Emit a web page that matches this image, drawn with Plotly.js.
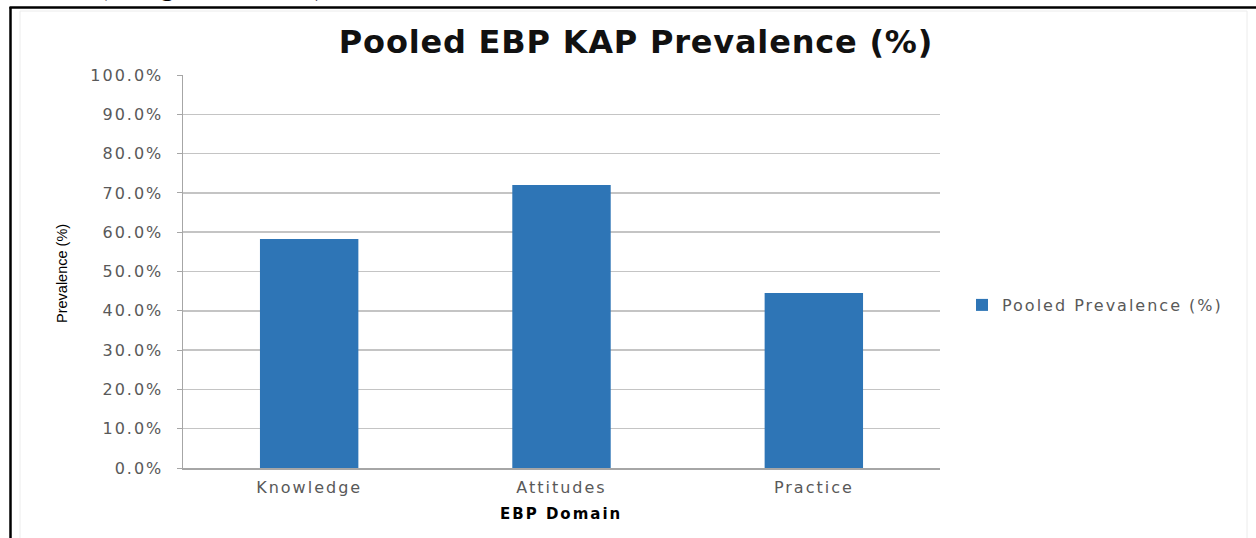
<!DOCTYPE html>
<html>
<head>
<meta charset="utf-8">
<script src="https://cdn.plot.ly/plotly-3.0.1.min.js"></script>
<style>
  html, body { margin: 0; padding: 0; background: #ffffff; }
  #chart { width: 1256px; height: 538px; }
  /* wide, airy lettering for ticks, legend and axis title
     (legend rule is unscoped so Plotly's text measuring sees it too) */
  .legendtext { letter-spacing: 2px; }
  #chart .xtick text, #chart .ytick text { letter-spacing: 2px; }
  #chart .annotation[data-index="1"] text { letter-spacing: 2px; }
  #chart .gtitle { letter-spacing: 0.8px; }
</style>
</head>
<body>
<div id="chart"></div>
<script>
// EBP domains and their pooled prevalence (fractions, shown as %)
const domains = ["Knowledge", "Attitudes", "Practice"];
const pooledPrevalence = [0.583, 0.720, 0.445];
const seriesName = "Pooled Prevalence (%)";
const yTickValues = [0, 0.1, 0.2, 0.3, 0.4, 0.5, 0.6, 0.7, 0.8, 0.9, 1.0];

// Plot area in page pixels, used to place paper-referenced items
const W = 1256, H = 538;
const M = { l: 183, r: 316, t: 75, b: 70 };
const pw = W - M.l - M.r, ph = H - M.t - M.b;
const px = x => (x - M.l) / pw;          // page x -> paper x
const py = y => (H - M.b - y) / ph;       // page y -> paper y

const gray = "#595959";

const trace = {
  type: "bar",
  x: domains,
  y: pooledPrevalence,
  name: seriesName,
  marker: { color: "#2e75b6" },
  showlegend: true,
  hoverinfo: "x+y"
};

const layout = {
  width: W,
  height: H,
  margin: M,
  paper_bgcolor: "#ffffff",
  plot_bgcolor: "#ffffff",
  bargap: 0.61,
  showlegend: true,
  title: {
    text: "Pooled EBP KAP Prevalence (%)",
    font: { family: "DejaVu Sans", size: 32, color: "#111111", weight: "bold" },
    xref: "paper", x: px(636), xanchor: "center",
    yref: "container", y: 1 - 42 / H, yanchor: "middle"
  },
  xaxis: {
    type: "category",
    showline: true, linecolor: "#a6a6a6", linewidth: 1.5,
    showgrid: false, ticks: "",
    tickfont: { family: "DejaVu Sans", size: 16, color: gray },
    ticklabelstandoff: 4,
    fixedrange: true
  },
  yaxis: {
    range: [0, 1],
    tickvals: yTickValues,
    tickformat: ".1%",
    showline: true, linecolor: "#a6a6a6", linewidth: 1.5,
    showgrid: true, gridcolor: "#c4c4c4", gridwidth: 1.5,
    ticks: "outside", ticklen: 5, tickcolor: "#a6a6a6",
    tickfont: { family: "DejaVu Sans", size: 16, color: gray },
    ticklabelstandoff: 10,
    zeroline: false,
    fixedrange: true
  },
  legend: {
    x: px(962), xanchor: "left",
    y: py(305), yanchor: "middle",
    font: { family: "DejaVu Sans", size: 16, color: gray },
    itemwidth: 30,
    bgcolor: "rgba(0,0,0,0)"
  },
  annotations: [
    {
      text: "Prevalence (%)",
      xref: "paper", yref: "paper",
      x: px(62), y: py(273), xanchor: "center", yanchor: "middle",
      textangle: -90, showarrow: false,
      font: { family: "Liberation Sans Narrow, Liberation Sans", size: 14.5, color: "#000000" }
    },
    {
      text: "EBP Domain",
      xref: "paper", yref: "paper",
      x: px(561), y: py(514), xanchor: "center", yanchor: "middle",
      showarrow: false,
      font: { family: "DejaVu Sans", size: 15, color: "#000000", weight: "bold" }
    },
    {
      // caption line of the surrounding document, mostly above the page edge
      text: "(Using Excel, 2025)",
      xref: "paper", yref: "paper",
      x: px(96), y: py(3), xanchor: "left", yanchor: "bottom",
      showarrow: false,
      font: { family: "Liberation Serif", size: 28, color: "#000000" }
    }
  ],
  shapes: [
    // faint chart-area border
    { type: "rect", xref: "paper", yref: "paper",
      x0: px(20), x1: px(1247), y0: py(545), y1: py(11),
      line: { color: "#ececec", width: 1 }, layer: "below" },
    // document frame: left and top rules
    { type: "line", xref: "paper", yref: "paper",
      x0: px(10.5), x1: px(10.5), y0: py(7), y1: py(545),
      line: { color: "#000000", width: 2.5 } },
    { type: "line", xref: "paper", yref: "paper",
      x0: px(9.5), x1: px(1262), y0: py(7.5), y1: py(7.5),
      line: { color: "#000000", width: 2.5 } }
  ]
};

Plotly.newPlot("chart", [trace], layout, { displayModeBar: false, staticPlot: true });
</script>
</body>
</html>
